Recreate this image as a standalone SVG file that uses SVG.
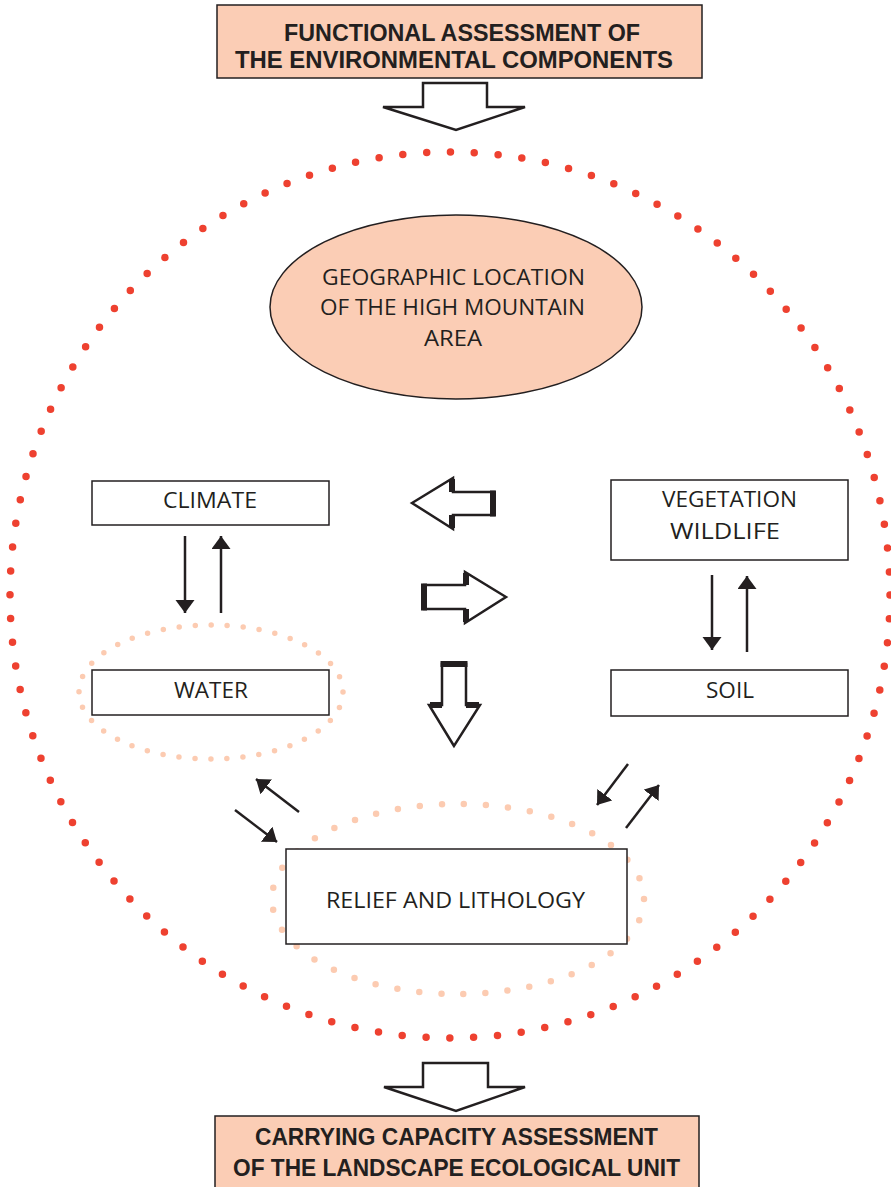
<svg xmlns="http://www.w3.org/2000/svg" width="891" height="1187" viewBox="0 0 891 1187">
  <style>
    .hdr { fill: #FBCDB5; stroke: #231F20; stroke-width: 1.5; }
    .box { fill: #FFFFFF; stroke: #231F20; stroke-width: 1.5; }
    .bold { font-family: "Liberation Sans", Arial, sans-serif; font-weight: 700; font-size: 23px; fill: #231F20; text-anchor: middle; }
    .lbl { font-family: "Open Sans", "Liberation Sans", sans-serif; font-weight: 400; font-size: 22px; fill: #231F20; text-anchor: middle; }
    .hollow { fill: #FFFFFF; stroke: #231F20; stroke-width: 2.5; stroke-linejoin: miter; }
    .thick { stroke: #231F20; stroke-width: 6; fill: none; }
    .link { stroke: #231F20; stroke-width: 2.5; fill: none; marker-end: url(#head); }
    .red-dots { fill: none; stroke: #EE4130; stroke-width: 7.5; stroke-linecap: round; }
    .pale-dots { fill: none; stroke: #FCCBB1; stroke-linecap: round; }
  </style>
  <defs>
    <marker id="head" markerUnits="userSpaceOnUse" markerWidth="14" markerHeight="20" refX="13" refY="9.5" orient="auto">
      <path d="M0,0 L13,9.5 L0,19 Z" fill="#231F20"/>
    </marker>
  </defs>

  <rect width="891" height="1187" fill="#FFFFFF"/>

  <!-- outer dotted boundary of the high mountain system -->
  <ellipse class="red-dots" cx="450" cy="595" rx="440" ry="443" stroke-dasharray="0 23.914"/>

  <!-- pale dotted halos around water and relief -->
  <ellipse class="pale-dots" cx="211" cy="692" rx="132" ry="67" stroke-width="5.5" stroke-dasharray="0 16.045"/>
  <ellipse class="pale-dots" cx="458" cy="899" rx="186" ry="95" stroke-width="6.5" stroke-dasharray="0 22.1"/>

  <g id="functional-assessment">
    <rect class="hdr" x="217" y="5" width="485" height="73"/>
    <text class="bold" x="462" y="41" textLength="356" lengthAdjust="spacingAndGlyphs">FUNCTIONAL ASSESSMENT OF</text>
    <text class="bold" x="454" y="68" textLength="438" lengthAdjust="spacingAndGlyphs">THE ENVIRONMENTAL COMPONENTS</text>
  </g>

  <g id="geographic-location">
    <ellipse cx="456" cy="307" rx="186" ry="92" fill="#FBCDB5" stroke="#231F20" stroke-width="1.5"/>
    <text class="lbl" x="453.5" y="285" textLength="263" lengthAdjust="spacingAndGlyphs">GEOGRAPHIC LOCATION</text>
    <text class="lbl" x="452.5" y="315" textLength="265" lengthAdjust="spacingAndGlyphs">OF THE HIGH MOUNTAIN</text>
    <text class="lbl" x="453" y="346" textLength="58" lengthAdjust="spacingAndGlyphs">AREA</text>
  </g>

  <g id="climate">
    <rect class="box" x="92" y="481" width="237" height="44"/>
    <text class="lbl" x="210" y="508" textLength="94" lengthAdjust="spacingAndGlyphs">CLIMATE</text>
  </g>

  <g id="vegetation-wildlife">
    <rect class="box" x="611" y="480" width="237" height="80"/>
    <text class="lbl" x="729.5" y="507" textLength="135" lengthAdjust="spacingAndGlyphs">VEGETATION</text>
    <text class="lbl" x="725" y="539" textLength="110" lengthAdjust="spacingAndGlyphs">WILDLIFE</text>
  </g>

  <g id="water">
    <rect class="box" x="92" y="670" width="237" height="45"/>
    <text class="lbl" x="211" y="698" textLength="74" lengthAdjust="spacingAndGlyphs">WATER</text>
  </g>

  <g id="soil">
    <rect class="box" x="611" y="670" width="237" height="46"/>
    <text class="lbl" x="730" y="698" textLength="48" lengthAdjust="spacingAndGlyphs">SOIL</text>
  </g>

  <g id="relief-lithology">
    <rect class="box" x="286" y="849" width="341" height="95"/>
    <text class="lbl" x="455.5" y="908" textLength="259" lengthAdjust="spacingAndGlyphs">RELIEF AND LITHOLOGY</text>
  </g>

  <g id="carrying-capacity">
    <rect class="hdr" x="215" y="1116" width="484" height="75"/>
    <text class="bold" x="456.5" y="1145" textLength="403" lengthAdjust="spacingAndGlyphs">CARRYING CAPACITY ASSESSMENT</text>
    <text class="bold" x="456.5" y="1176" textLength="447" lengthAdjust="spacingAndGlyphs">OF THE LANDSCAPE ECOLOGICAL UNIT</text>
  </g>

  <g id="connectors">
    <!-- block arrows between the stages -->
    <polygon class="hollow" stroke-width="3" points="423,83 487,83 487,107 525,107 456,130 383,107 423,107"/>
    <polygon class="hollow" stroke-width="3" points="423,1063 488,1063 488,1087 525,1087 456,1111 384,1087 423,1087"/>

    <!-- central hollow arrows -->
    <polygon class="hollow" points="412,503 453,478 453,492 494,492 494,515 453,515 453,529"/>
    <line class="thick" x1="493" y1="490.5" x2="493" y2="516.5"/>
    <line class="thick" x1="452" y1="479" x2="452" y2="492"/>
    <line class="thick" x1="452" y1="515" x2="452" y2="528"/>

    <polygon class="hollow" points="506,597 465,572 465,585 424,585 424,609 465,609 465,623"/>
    <line class="thick" x1="424" y1="583.5" x2="424" y2="610.5"/>
    <line class="thick" x1="466" y1="573" x2="466" y2="585"/>
    <line class="thick" x1="466" y1="609" x2="466" y2="622"/>

    <polygon class="hollow" points="454,746 429,705 442,705 442,664 466,664 466,705 480,705"/>
    <line class="thick" x1="440.5" y1="664" x2="467.5" y2="664"/>
    <line class="thick" x1="430" y1="705" x2="442" y2="705"/>
    <line class="thick" x1="466" y1="705" x2="479" y2="705"/>

    <!-- climate / water exchange -->
    <line class="link" x1="185" y1="536" x2="185" y2="613"/>
    <line class="link" x1="221" y1="613" x2="221" y2="536"/>

    <!-- vegetation / soil exchange -->
    <line class="link" x1="712" y1="575" x2="712" y2="650"/>
    <line class="link" x1="747" y1="652" x2="747" y2="576"/>

    <!-- water / relief exchange -->
    <line class="link" x1="299" y1="812" x2="256" y2="779"/>
    <line class="link" x1="235" y1="810" x2="277" y2="842"/>

    <!-- soil / relief exchange -->
    <line class="link" x1="628" y1="764" x2="597" y2="805"/>
    <line class="link" x1="626" y1="828" x2="659" y2="785"/>
  </g>
</svg>
